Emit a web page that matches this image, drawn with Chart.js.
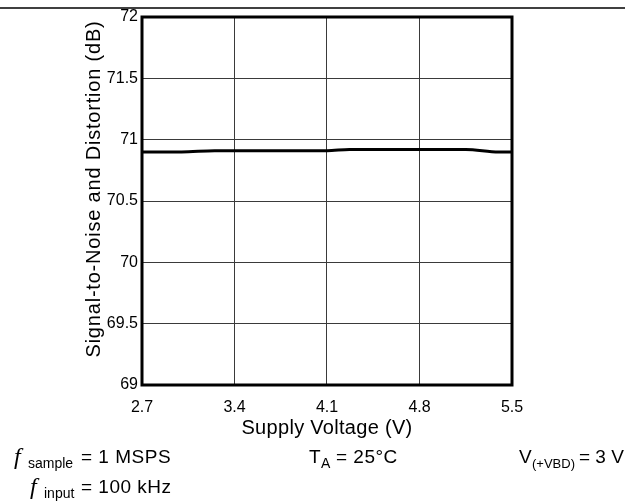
<!DOCTYPE html>
<html>
<head>
<meta charset="utf-8">
<script src="https://cdn.jsdelivr.net/npm/chart.js@4/dist/chart.umd.min.js"></script>
<style>
  html, body { margin: 0; padding: 0; background: #fff; }
  canvas { display: block; }
</style>
</head>
<body>
<canvas id="sinadChart" width="625" height="501"></canvas>
<script>
// SINAD vs supply voltage
const supplyVoltage = [2.7, 3.0, 3.25, 3.4, 4.1, 4.27, 4.8, 5.15, 5.4, 5.5];
const sinadValues = [70.9, 70.9, 70.91, 70.91, 70.91, 70.92, 70.92, 70.92, 70.9, 70.9];
const xTickValues = [2.7, 3.4, 4.1, 4.8, 5.5];
const yTickValues = [69, 69.5, 70, 70.5, 71, 71.5, 72];

const xTitle = 'Supply Voltage (V)';
const yTitle = 'Signal-to-Noise and Distortion (dB)';

const SANS = 'Arial, "Liberation Sans", sans-serif';
const SERIF = '"Liberation Serif", "DejaVu Serif", serif';

// draw a run of text pieces (main text + subscripts)
const drawPieces = (ctx, pieces) => {
    pieces.forEach(p => {
        ctx.font = p.font;
        ctx.letterSpacing = p.sp || '0px';
        ctx.fillText(p.text, p.x, p.y);
    });
};

// frame, top rule, axis titles and test conditions
const decorPlugin = {
    id: 'decor',
    afterDraw(chart) {
        const { ctx, chartArea: a } = chart;
        ctx.save();
        ctx.strokeStyle = '#000';
        ctx.lineWidth = 3;
        ctx.strokeRect(a.left, a.top, a.right - a.left, a.bottom - a.top);

        ctx.lineWidth = 1.5;
        ctx.beginPath();
        ctx.moveTo(0, 8);
        ctx.lineTo(625, 8);
        ctx.stroke();

        ctx.fillStyle = '#000';
        ctx.textBaseline = 'alphabetic';
        ctx.textAlign = 'center';
        ctx.font = '20px ' + SANS;
        ctx.letterSpacing = '0.3px';
        ctx.fillText(xTitle, (a.left + a.right) / 2, 434);

        ctx.save();
        ctx.letterSpacing = '0.8px';
        ctx.translate(100, 189);
        ctx.rotate(-Math.PI / 2);
        ctx.fillText(yTitle, 0, 0);
        ctx.restore();

        ctx.textAlign = 'left';
        const main = '19px ' + SANS;
        const sub = '14px ' + SANS;
        const fItal = 'italic 24px ' + SERIF;
        drawPieces(ctx, [
            { text: 'f', font: fItal, x: 14, y: 464 },
            { text: 'sample', font: sub, x: 28, y: 468 },
            { text: '= 1 MSPS', font: main, x: 81, y: 463, sp: '0.5px' },
            { text: 'f', font: fItal, x: 30, y: 494 },
            { text: 'input', font: sub, x: 44, y: 498 },
            { text: '= 100 kHz', font: main, x: 81, y: 493, sp: '0.5px' },
            { text: 'T', font: main, x: 309, y: 463 },
            { text: 'A', font: sub, x: 321, y: 468 },
            { text: '= 25°C', font: main, x: 336, y: 463, sp: '0.5px' },
            { text: 'V', font: main, x: 519, y: 463 },
            { text: '(+VBD)', font: '13px ' + SANS, x: 532, y: 468 },
            { text: '= 3 V', font: main, x: 579, y: 463 }
        ]);
        ctx.restore();
    }
};

const ctx = document.getElementById('sinadChart').getContext('2d');
new Chart(ctx, {
    type: 'line',
    data: {
        datasets: [{
            data: supplyVoltage.map((v, i) => ({ x: v, y: sinadValues[i] })),
            borderColor: '#000',
            borderWidth: 3,
            pointRadius: 0,
            cubicInterpolationMode: 'monotone',
            fill: false
        }]
    },
    options: {
        responsive: false,
        animation: false,
        layout: { padding: { left: 0, top: 17, right: 113, bottom: 0 } },
        plugins: {
            legend: { display: false },
            tooltip: { enabled: false }
        },
        scales: {
            x: {
                type: 'linear',
                min: 2.7,
                max: 5.5,
                afterBuildTicks: scale => { scale.ticks = xTickValues.map(v => ({ value: v })); },
                afterFit: scale => { scale.height = 116; },
                ticks: {
                    color: '#000',
                    font: { family: SANS, size: 16 },
                    padding: 13,
                    maxRotation: 0,
                    callback: v => v.toFixed(1)
                },
                grid: { color: '#3a3a3a', lineWidth: 1, drawTicks: false },
                border: { display: false }
            },
            y: {
                min: 69,
                max: 72,
                afterBuildTicks: scale => { scale.ticks = yTickValues.map(v => ({ value: v })); },
                afterFit: scale => { scale.width = 142; },
                ticks: {
                    color: '#000',
                    font: { family: SANS, size: 16 },
                    padding: 4,
                    callback: v => String(v)
                },
                grid: { color: '#3a3a3a', lineWidth: 1, drawTicks: false },
                border: { display: false }
            }
        }
    },
    plugins: [decorPlugin]
});
</script>
</body>
</html>
